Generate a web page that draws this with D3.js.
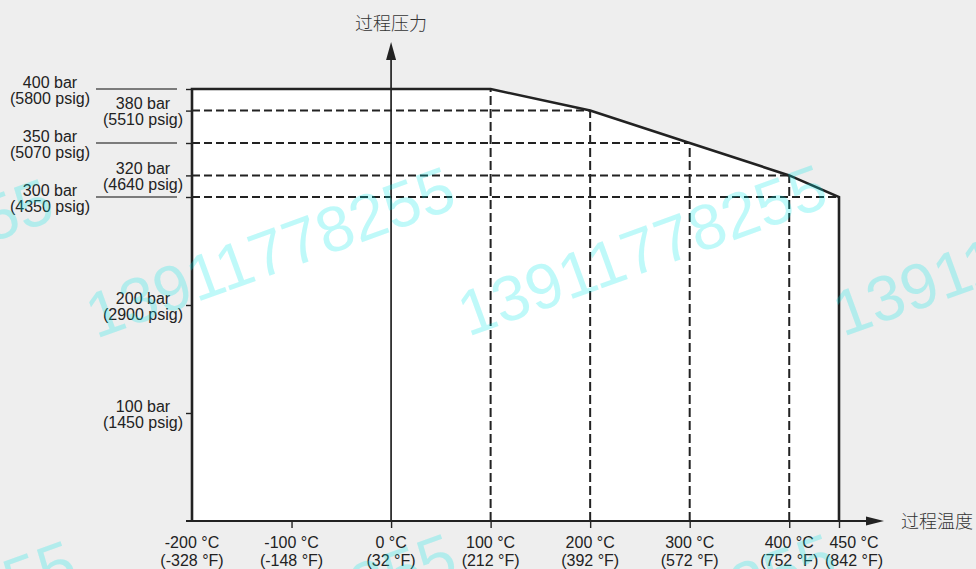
<!DOCTYPE html>
<html>
<head>
<meta charset="utf-8">
<script src="https://cdn.jsdelivr.net/npm/d3@7"></script>
<style>
  html, body { margin: 0; padding: 0; background: #eeeeee; }
  svg { display: block; }
</style>
</head>
<body>
<svg id="chart" width="976" height="569"></svg>
<script>
// Temperature axis ticks (°C) and their Fahrenheit equivalents
const temperatureC = [-200, -100, 0, 100, 200, 300, 400, 450];
const temperatureF = ["-328", "-148", "32", "212", "392", "572", "752", "842"];

// Pressure axis ticks (bar) and their psig equivalents
const pressureBar = [100, 200, 300, 320, 350, 380, 400];
const pressurePsig = ["1450", "2900", "4350", "4640", "5070", "5510", "5800"];

// Pressure levels labelled in the outer column with a leader line
const leaderLevels = [300, 350, 400];

// Maximum process pressure (bar) allowed at each process temperature (°C)
const limitTemp = [-200, 100, 200, 300, 400, 450];
const limitPressure = [400, 400, 380, 350, 320, 300];

const xTitle = "过程温度";
const yTitle = "过程压力";
const watermarkText = "13911778255";

const svg = d3.select("#chart");
const W = 976, H = 569;
const ink = "#222222";
const textFont = "'Liberation Sans', Arial, Helvetica, sans-serif";
const cjkFont = "'Noto Sans CJK SC', 'Noto Sans', sans-serif";

const x = d3.scaleLinear().domain([-200, 450]).range([192, 839]);
const y = d3.scaleLinear().domain([0, 400]).range([521, 89]);

const tMin = d3.min(limitTemp), tMax = d3.max(limitTemp);
const pMax = d3.max(limitPressure);
const limits = limitTemp.map((t, i) => ({ t, p: limitPressure[i] }));

svg.append("rect").attr("width", W).attr("height", H).attr("fill", "#eeeeee");

// Operating region
svg.append("path")
  .datum(limits)
  .attr("fill", "#ffffff")
  .attr("d", d3.area().x(d => x(d.t)).y0(y(0)).y1(d => y(d.p)));

// Dashed guides from each break point of the limit curve
const guides = svg.append("g")
  .attr("stroke", ink).attr("stroke-width", 2).attr("fill", "none");
guides.selectAll("line.v")
  .data(limits.filter(d => d.t > tMin && d.t < tMax))
  .join("line").attr("class", "v")
  .attr("x1", d => x(d.t)).attr("x2", d => x(d.t))
  .attr("y1", y(0)).attr("y2", d => y(d.p))
  .attr("stroke-dasharray", "9,4");
guides.selectAll("line.h")
  .data(limits.filter(d => d.p < pMax))
  .join("line").attr("class", "h")
  .attr("x1", x(tMin)).attr("x2", d => x(d.t))
  .attr("y1", d => y(d.p)).attr("y2", d => y(d.p))
  .attr("stroke-dasharray", "8,4");

// Pressure axis (vertical arrow at 0 °C)
svg.append("line")
  .attr("x1", x(0)).attr("x2", x(0))
  .attr("y1", y(0)).attr("y2", 58)
  .attr("stroke", ink).attr("stroke-width", 1.7);
svg.append("path")
  .attr("d", `M${x(0) - 5},60 L${x(0)},42 L${x(0) + 5},60 Z`)
  .attr("fill", ink);

// Limit curve outline
const outline = [{ t: tMin, p: 0 }, ...limits, { t: tMax, p: 0 }];
svg.append("path")
  .datum(outline)
  .attr("fill", "none").attr("stroke", ink).attr("stroke-width", 2.6)
  .attr("stroke-linejoin", "miter")
  .attr("d", d3.line().x(d => x(d.t)).y(d => y(d.p)));

// Temperature axis (horizontal arrow)
svg.append("line")
  .attr("x1", x(tMin) - 6).attr("x2", 868)
  .attr("y1", y(0)).attr("y2", y(0))
  .attr("stroke", ink).attr("stroke-width", 2);
svg.append("path")
  .attr("d", `M866,${y(0) - 4.5} L884,${y(0)} L866,${y(0) + 4.5} Z`)
  .attr("fill", ink);

const xAxis = svg.append("g")
  .attr("transform", `translate(0,${y(0)})`)
  .call(d3.axisBottom(x).tickValues(temperatureC.filter(t => t > tMin)).tickSize(7).tickFormat(""));
xAxis.select(".domain").remove();
xAxis.selectAll(".tick line").attr("stroke", ink).attr("stroke-width", 1.4);

const yAxis = svg.append("g")
  .attr("transform", `translate(${x(tMin)},0)`)
  .call(d3.axisLeft(y).tickValues(pressureBar).tickSize(6).tickFormat(""));
yAxis.select(".domain").remove();
yAxis.selectAll(".tick line").attr("stroke", ink).attr("stroke-width", 1.4);

// Leader lines for the outer pressure labels
svg.append("g")
  .selectAll("line")
  .data(leaderLevels)
  .join("line")
  .attr("x1", 96).attr("x2", 177)
  .attr("y1", d => y(d)).attr("y2", d => y(d))
  .attr("stroke", "#555555").attr("stroke-width", 1.3);

// Temperature tick labels
const xLabels = svg.append("g")
  .attr("font-family", textFont).attr("font-size", 16).attr("fill", ink)
  .attr("text-anchor", "middle");
temperatureC.forEach((t, i) => {
  const cx = x(t) + (i === temperatureC.length - 1 ? 15 : 0);
  const g = xLabels.append("text");
  g.append("tspan").attr("x", cx).attr("y", y(0) + 27).text(`${t} °C`);
  g.append("tspan").attr("x", cx).attr("y", y(0) + 45).text(`(${temperatureF[i]} °F)`);
});

// Pressure tick labels
const yLabels = svg.append("g")
  .attr("font-family", textFont).attr("font-size", 16).attr("fill", ink)
  .attr("text-anchor", "middle");
pressureBar.forEach((p, i) => {
  const cx = leaderLevels.includes(p) ? 50 : 143;
  const g = yLabels.append("text");
  g.append("tspan").attr("x", cx).attr("y", y(p) - 1.5).text(`${p} bar`);
  g.append("tspan").attr("x", cx).attr("y", y(p) + 14.5).text(`(${pressurePsig[i]} psig)`);
});

// Axis titles
svg.append("text")
  .attr("x", x(0)).attr("y", 30)
  .attr("text-anchor", "middle")
  .attr("font-family", cjkFont).attr("font-size", 18).attr("font-weight", 300)
  .attr("fill", "#333333")
  .text(yTitle);
svg.append("text")
  .attr("x", 901).attr("y", y(0) + 7)
  .attr("text-anchor", "start")
  .attr("font-family", cjkFont).attr("font-size", 18).attr("font-weight", 300)
  .attr("fill", "#333333")
  .text(xTitle);

// Diagonal watermark text
const stamps = [
  [-306, 351], [96, 339], [468, 337], [843, 337],
  [-283, 713], [97, 706], [477, 706]
];
svg.append("g")
  .attr("font-family", textFont).attr("font-size", 64)
  .attr("fill", "#00e6e6").attr("fill-opacity", 0.25)
  .attr("pointer-events", "none")
  .selectAll("text")
  .data(stamps)
  .join("text")
  .attr("transform", d => `translate(${d[0]},${d[1]}) rotate(-20)`)
  .text(watermarkText);
</script>
</body>
</html>
